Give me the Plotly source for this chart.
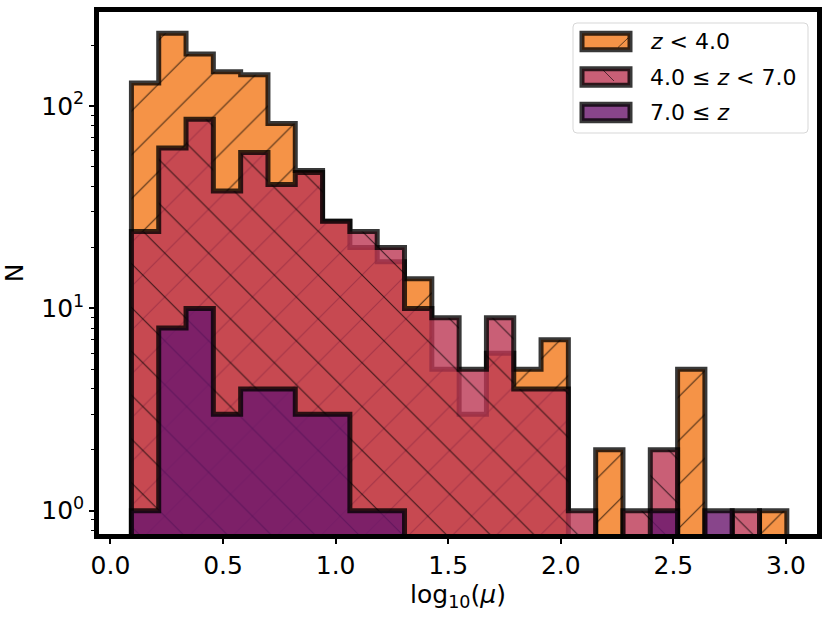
import numpy as np
import plotly.graph_objects as go

# histogram bins (24 equal bins over the data range of log10(mu))
n_bins = 24
bin_lo, bin_hi = 0.093, 3.004

series_names = ["<i>z</i> &lt; 4.0", "4.0 ≤ <i>z</i> &lt; 7.0", "7.0 ≤ <i>z</i>"]
counts_low = [130, 229, 181, 148, 143, 82, 48, 27, 20, 17, 14, 5,
              3, 6, 5, 7, 0, 2, 0, 0, 5, 0, 0, 1]
counts_mid = [24, 62, 86, 38, 59, 41, 47, 27, 24, 20, 10, 9,
              5, 9, 4, 4, 1, 0, 1, 2, 0, 0, 1, 0]
counts_high = [1, 8, 10, 3, 4, 4, 3, 3, 1, 1, 0, 0,
               0, 0, 0, 0, 0, 0, 0, 1, 0, 1, 0, 0]

x_ticks = [0.0, 0.5, 1.0, 1.5, 2.0, 2.5, 3.0]
y_ticks = [1, 10, 100]
y_ticktext = ["10<sup>0</sup>", "10<sup>1</sup>", "10<sup>2</sup>"]
y_minor = [0.8, 0.9, 2, 3, 4, 5, 6, 7, 8, 9, 20, 30, 40, 50, 60, 70, 80, 90, 200]

fills = ["rgba(243,120,25,0.8)", "rgba(188,55,84,0.8)", "rgba(106,23,110,0.8)"]
hatches = ["/", "\\", ""]
edge = "rgba(0,0,0,0.78)"
floor = 0.3  # below the visible log range, so zero bins drop off the axes

edges = np.linspace(bin_lo, bin_hi, n_bins + 1)


def step_outline(counts):
    xs, ys = [edges[0]], [floor]
    for i, c in enumerate(counts):
        v = c if c > 0 else floor
        xs += [edges[i], edges[i + 1]]
        ys += [v, v]
    xs.append(edges[-1])
    ys.append(floor)
    return xs, ys


fig = go.Figure()

for name, counts, fc, hatch in zip(series_names, [counts_low, counts_mid, counts_high], fills, hatches):
    xs, ys = step_outline(counts)
    kw = {}
    if hatch:
        kw["fillpattern"] = dict(shape=hatch, size=31, solidity=0.035, fillmode="replace",
                                 bgcolor=fc, fgcolor="black", fgopacity=0.7)
    fig.add_trace(go.Scatter(
        x=xs, y=ys, mode="lines", fill="toself", fillcolor=fc,
        line=dict(color=edge, width=5), name=name, showlegend=False,
        hoverinfo="skip", **kw
    ))

# hand-drawn legend box (matplotlib style)
L, R, T, B = 99, 817, 12, 534


def px(x):
    return (x - L) / (R - L)


def py(y):
    return (B - y) / (B - T)


def rounded_box(x0, y0, x1, y1, r):
    return (f"M{px(x0 + r)},{py(y0)} L{px(x1 - r)},{py(y0)} Q{px(x1)},{py(y0)} {px(x1)},{py(y0 + r)} "
            f"L{px(x1)},{py(y1 - r)} Q{px(x1)},{py(y1)} {px(x1 - r)},{py(y1)} "
            f"L{px(x0 + r)},{py(y1)} Q{px(x0)},{py(y1)} {px(x0)},{py(y1 - r)} "
            f"L{px(x0)},{py(y0 + r)} Q{px(x0)},{py(y0)} {px(x0 + r)},{py(y0)} Z")


shapes = [dict(type="path", xref="paper", yref="paper", path=rounded_box(573, 23, 808, 133, 4),
               line=dict(color="rgb(215,215,215)", width=1), fillcolor="rgba(255,255,255,0.85)", layer="above")]
annotations = []
for k, (name, fc) in enumerate(zip(series_names, fills)):
    yc = 41.5 + 35.5 * k
    shapes.append(dict(type="rect", xref="paper", yref="paper", x0=px(582), x1=px(630),
                       y0=py(yc - 8.3), y1=py(yc + 8.3), fillcolor=fc,
                       line=dict(color=edge, width=5), layer="above"))
    annotations.append(dict(xref="paper", yref="paper", x=px(648), y=py(yc), text=name,
                            showarrow=False, xanchor="left", yanchor="middle",
                            font=dict(family="DejaVu Sans", size=22, color="black")))
shapes.append(dict(type="line", xref="paper", yref="paper", x0=px(618), y0=py(47.5), x1=px(628), y1=py(38),
                   line=dict(color="rgba(0,0,0,0.6)", width=1), layer="above"))
shapes.append(dict(type="line", xref="paper", yref="paper", x0=px(603), y0=py(70), x1=px(614), y1=py(81),
                   line=dict(color="rgba(0,0,0,0.6)", width=1), layer="above"))

fig.update_layout(
    width=830, height=618,
    margin=dict(l=L, r=830 - R, t=T, b=618 - B),
    paper_bgcolor="white", plot_bgcolor="white",
    font=dict(family="DejaVu Sans", size=24, color="black"),
    showlegend=False,
    shapes=shapes, annotations=annotations,
)

fig.update_xaxes(
    range=[-0.051, 3.138], tickvals=x_ticks, tickformat=".1f", automargin=False,
    showline=True, linewidth=4.5, linecolor="black", mirror=True,
    ticks="outside", ticklen=5, tickwidth=1.6, tickcolor="black",
    showgrid=False, zeroline=False,
    title=dict(text="log<sub>10</sub>(<i>μ</i>)", standoff=2, font=dict(size=25)),
    tickfont=dict(size=25),
)
fig.update_yaxes(
    type="log", range=[-0.115, 2.465], tickvals=y_ticks, ticktext=y_ticktext, automargin=False,
    showline=True, linewidth=4.5, linecolor="black", mirror=True,
    ticks="outside", ticklen=5, tickwidth=1.6, tickcolor="black",
    minor=dict(tickvals=y_minor, ticks="outside", ticklen=3, tickwidth=1, tickcolor="black"),
    showgrid=False, zeroline=False,
    title=dict(text="N", standoff=12, font=dict(size=25)),
    tickfont=dict(size=25),
)

fig.write_html("out.html", config={"displayModeBar": False},
               post_script="document.body.style.margin='0px';")
